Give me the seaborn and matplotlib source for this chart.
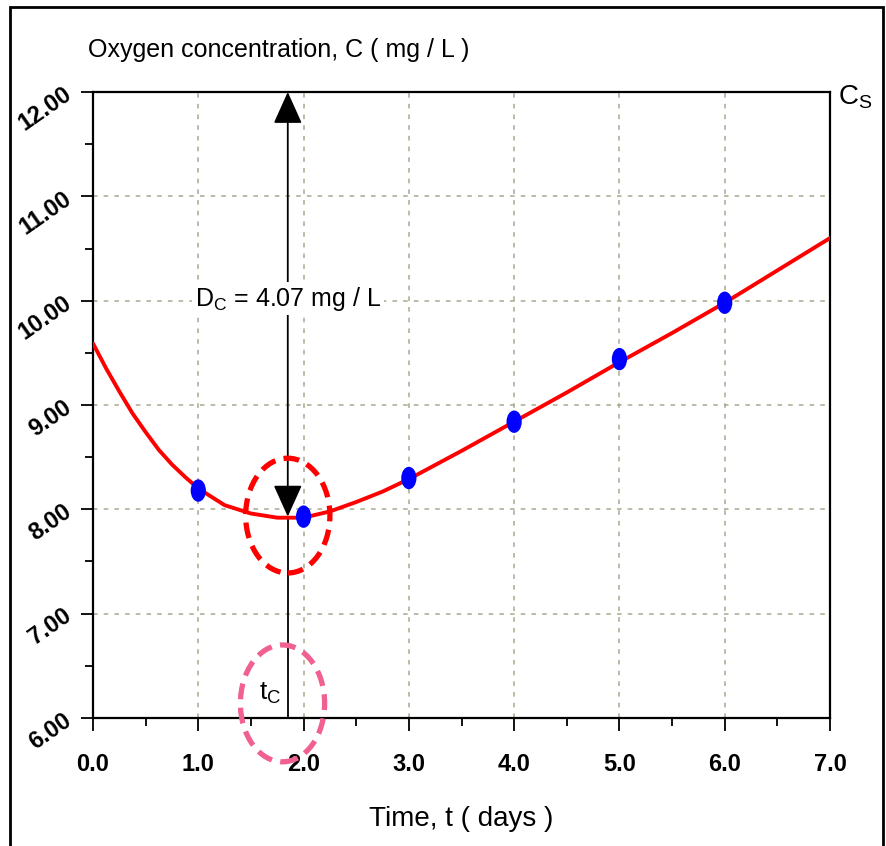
import numpy as np
import pandas as pd
import seaborn as sns
import matplotlib.pyplot as plt
from matplotlib.patches import Ellipse, Rectangle
from matplotlib.path import Path
from matplotlib.ticker import MultipleLocator

t_obs = [1.0, 2.0, 3.0, 4.0, 5.0, 6.0]
c_obs = [8.18, 7.93, 8.30, 8.84, 9.44, 9.98]

t_fit = [0.0, 0.125, 0.25, 0.375, 0.5, 0.625, 0.75, 0.875, 1.0, 1.25, 1.5, 1.75,
         2.0, 2.25, 2.5, 2.75, 3.0, 3.5, 4.0, 4.5, 5.0, 5.5, 6.0, 6.5, 7.0]
c_fit = [9.59, 9.35, 9.13, 8.92, 8.74, 8.57, 8.43, 8.31, 8.20, 8.04, 7.96, 7.92,
         7.92, 7.98, 8.07, 8.17, 8.29, 8.56, 8.84, 9.12, 9.41, 9.69, 9.98, 10.29, 10.60]

t_crit = 1.85
c_sat = 12.0
c_min = 7.93

x_ticks = [0, 1, 2, 3, 4, 5, 6, 7]
x_labels = ["0.0", "1.0", "2.0", "3.0", "4.0", "5.0", "6.0", "7.0"]
y_ticks = [6, 7, 8, 9, 10, 11, 12]
y_labels = ["6.00", "7.00", "8.00", "9.00", "10.00", "11.00", "12.00"]

sns.set_style("white")
plt.rcParams['font.family'] = ['Liberation Sans', 'DejaVu Sans']
plt.rcParams['text.color'] = 'black'
plt.rcParams['xtick.color'] = 'black'
plt.rcParams['ytick.color'] = 'black'
plt.rcParams['axes.labelcolor'] = 'black'

fig = plt.figure(figsize=(8.86, 8.46), dpi=100)
ax = fig.add_axes([93/886, 1-718/846, (830-93)/886, (718-92)/846])

df_fit = pd.DataFrame({"t": t_fit, "c": c_fit})
df_obs = pd.DataFrame({"t": t_obs, "c": c_obs})

ax.grid(True, which="major", color="#a8a890", linestyle=(0, (3, 4)), linewidth=1.1)
ax.set_axisbelow(True)

# vertical critical-time line with arrows
ax.plot([t_crit, t_crit], [6, c_min], color="black", lw=1.3, zorder=3)
ax.annotate("", xy=(t_crit, c_sat), xytext=(t_crit, c_min),
            arrowprops=dict(arrowstyle="<|-|>,head_length=1.0,head_width=0.45",
                            mutation_scale=20, color="black", lw=1.3,
                            shrinkA=0, shrinkB=0), zorder=3)

sns.lineplot(data=df_fit, x="t", y="c", color="#ff0000", lw=2.8, ax=ax, zorder=4)

oval = Path(Path.unit_circle().vertices * np.array([0.68, 1.0]), Path.unit_circle().codes)
sns.scatterplot(data=df_obs, x="t", y="c", color="#0000ff", marker=oval, s=260,
                edgecolor="none", ax=ax, zorder=5)

ax.text(t_crit, 10.02, r"$\mathregular{D_C}$ = 4.07 mg / L", ha="center", va="center",
        fontsize=18, zorder=6, bbox=dict(facecolor="white", edgecolor="none", pad=2))

ax.text(1.68, 6.24, r"$\mathregular{t_C}$", ha="center", va="center", fontsize=19, zorder=6)
ax.text(7.08, 11.95, r"$\mathregular{C_S}$", ha="left", va="center", fontsize=20,
        clip_on=False)

ax.add_patch(Ellipse((1.85, 7.94), 0.80, 1.10, fill=False, edgecolor="#ff0000",
                     lw=3.8, linestyle=(0, (3, 1.6)), zorder=7))
ax.add_patch(Ellipse((1.80, 6.14), 0.80, 1.12, fill=False, edgecolor="#f06090",
                     lw=3.8, linestyle=(0, (3, 1.6)), zorder=7, clip_on=False))

ax.set_xlim(0, 7)
ax.set_ylim(6, 12)
ax.set_xticks(x_ticks)
ax.set_xticklabels(x_labels, fontsize=17, fontweight="bold")
ax.set_yticks(y_ticks)
ax.set_yticklabels(y_labels, fontsize=17, fontweight="bold", rotation=35,
                   ha="right", va="center", rotation_mode="anchor")
ax.xaxis.set_minor_locator(MultipleLocator(0.5))
ax.yaxis.set_minor_locator(MultipleLocator(0.5))
ax.tick_params(which="major", direction="out", length=9, width=1.3, color="black")
ax.tick_params(which="minor", direction="out", length=6, width=1.3, color="black")
ax.tick_params(axis="x", which="both", bottom=True, pad=16)
ax.tick_params(axis="y", which="both", left=True, pad=8)
for s in ax.spines.values():
    s.set_color("black")
    s.set_linewidth(1.6)

ax.set_xlabel("Time, t ( days )", fontsize=20, labelpad=22)
ax.set_ylabel("")
fig.text(88/886, 1-50/846, "Oxygen concentration, C ( mg / L )", fontsize=18,
         ha="left", va="center")

fig.patches.append(Rectangle((10/886, -0.01), (883-10)/886, 1.01-7/846, fill=False,
                             edgecolor="black", lw=2, transform=fig.transFigure))

fig.savefig("out.png", dpi=100)
